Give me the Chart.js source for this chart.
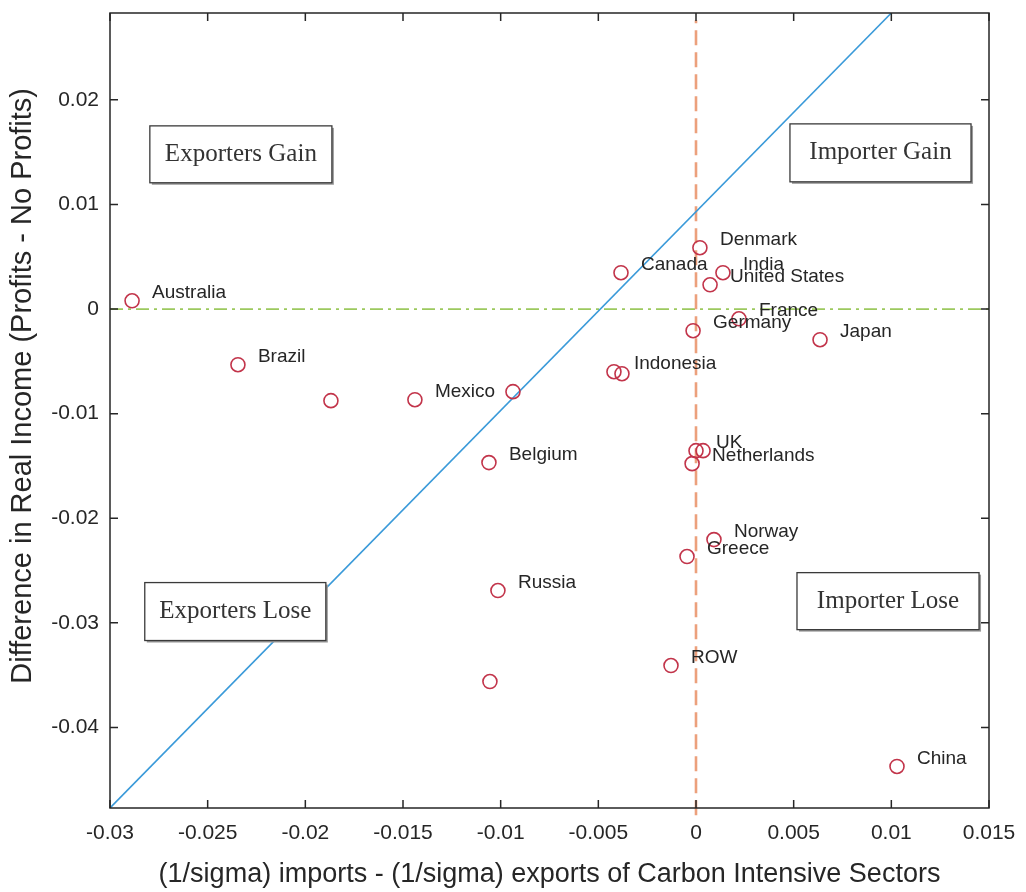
<!DOCTYPE html>
<html>
<head>
<meta charset="utf-8">
<script src="https://cdn.jsdelivr.net/npm/chart.js@4"></script>
<style>
  html,body{margin:0;padding:0;background:#fff;}
  #wrap{width:1026px;height:892px;}
</style>
</head>
<body>
<div id="wrap"><canvas id="c"></canvas></div>
<script>
/* ---------------- data ---------------- */
const countries = ['Australia','Brazil','','Mexico','','Belgium','Russia','',
  'Canada','Indonesia','','Denmark','India','United States','France','Germany',
  'Japan','UK','','Netherlands','Norway','Greece','ROW','China'];
const xVals = [-0.02887,-0.02345,-0.01869,-0.01439,-0.00937,-0.01060,-0.01014,-0.01055,
  -0.00384,-0.00420,-0.00379,0.00020,0.00138,0.00072,0.00220,-0.00015,
  0.00635,0.00000,0.00036,-0.00020,0.00092,-0.00046,-0.00128,0.01029];
const yVals = [0.00079,-0.00532,-0.00876,-0.00867,-0.00790,-0.01468,-0.02691,-0.03561,
  0.00347,-0.00599,-0.00618,0.00586,0.00347,0.00232,-0.00093,-0.00207,
  -0.00293,-0.01354,-0.01354,-0.01478,-0.02204,-0.02366,-0.03408,-0.04373];

const diagX = [-0.03, 0.01];
const diagY = [-0.0477, 0.0283];
const vLineX = [0, 0];
const vLineY = [-0.0484, 0.0276];
const hLineX = [-0.03, 0.015];
const hLineY = [0, 0];

const quadrants = [
  {text:'Exporters Gain', x0:-0.02796, x1:-0.01864, y0:0.01751, y1:0.01207},
  {text:'Importer Gain',  x0: 0.00481, x1: 0.01408, y0:0.01770, y1:0.01216},
  {text:'Exporters Lose', x0:-0.02822, x1:-0.01895, y0:-0.02615, y1:-0.03169},
  {text:'Importer Lose',  x0: 0.00517, x1: 0.01449, y0:-0.02520, y1:-0.03065}
];

const yTitle = 'Difference in Real Income (Profits - No Profits)';
const xTitle = '(1/sigma) imports - (1/sigma) exports of Carbon Intensive Sectors';

const pts = (xs, ys) => xs.map((x,i)=>({x, y:ys[i]}));
const fmtTick = v => String(+v.toFixed(3));
const SANS = '"Liberation Sans", Arial, sans-serif';

/* ---------------- plugins ---------------- */
const frame = {
  id:'frame',
  afterDatasetsDraw(chart){
    const {ctx, chartArea:a, scales:{x,y}} = chart;
    ctx.save();
    // country labels
    ctx.font = '19px ' + SANS;
    ctx.fillStyle = '#262626';
    ctx.textBaseline = 'middle';
    countries.forEach((n,i)=>{
      if(!n) return;
      ctx.fillText(n, x.getPixelForValue(xVals[i]) + 20, y.getPixelForValue(yVals[i]) - 8);
    });
    // quadrant boxes
    quadrants.forEach(q=>{
      const l = x.getPixelForValue(q.x0), r = x.getPixelForValue(q.x1);
      const t = y.getPixelForValue(q.y0), b = y.getPixelForValue(q.y1);
      ctx.fillStyle = '#9a9a9a';
      ctx.fillRect(l+2, t+2, r-l, b-t);
      ctx.fillStyle = '#fff';
      ctx.fillRect(l, t, r-l, b-t);
      ctx.strokeStyle = '#3a3a3a';
      ctx.lineWidth = 1.3;
      ctx.strokeRect(l, t, r-l, b-t);
      ctx.fillStyle = '#333';
      ctx.font = '25px "Liberation Serif", "Times New Roman", serif';
      ctx.textAlign = 'center';
      ctx.fillText(q.text, (l+r)/2, (t+b)/2);
      ctx.textAlign = 'left';
    });
    // axes box + inward ticks
    ctx.strokeStyle = '#262626';
    ctx.lineWidth = 1.5;
    ctx.strokeRect(a.left, a.top, a.right-a.left, a.bottom-a.top);
    ctx.beginPath();
    x.ticks.forEach(tk=>{
      const px = x.getPixelForValue(tk.value);
      ctx.moveTo(px, a.bottom); ctx.lineTo(px, a.bottom-8);
      ctx.moveTo(px, a.top);    ctx.lineTo(px, a.top+8);
    });
    y.ticks.forEach(tk=>{
      const py = y.getPixelForValue(tk.value);
      ctx.moveTo(a.left, py);  ctx.lineTo(a.left+8, py);
      ctx.moveTo(a.right, py); ctx.lineTo(a.right-8, py);
    });
    ctx.stroke();
    // y axis title (sits a bit above the axis centre, as in the original)
    ctx.translate(23, a.top + (a.bottom - a.top) * 0.469);
    ctx.rotate(-Math.PI/2);
    ctx.font = '29px ' + SANS;
    ctx.textAlign = 'center';
    ctx.fillStyle = '#262626';
    ctx.fillText(yTitle, 0, 0);
    ctx.restore();
  }
};

/* ---------------- chart ---------------- */
const tickFont = {family:SANS, size:21};

new Chart(document.getElementById('c'), {
  type:'scatter',
  data:{
    datasets:[
      {type:'scatter', data:pts(xVals,yVals), pointStyle:'circle', pointRadius:7,
       borderColor:'#C2344A', backgroundColor:'rgba(0,0,0,0)', borderWidth:1.6, pointHoverRadius:7},
      {type:'line', data:pts(diagX,diagY), borderColor:'#3A9AD9', borderWidth:1.6, pointRadius:0, fill:false},
      {type:'line', data:pts(vLineX,vLineY), borderColor:'#ECA07C', borderWidth:2.6, borderDash:[15,7],
       pointRadius:0, fill:false, clip:{left:0,top:0,right:0,bottom:8}},
      {type:'line', data:pts(hLineX,hLineY), borderColor:'#9CC95E', borderWidth:1.7, borderDash:[13,5,3,5],
       pointRadius:0, fill:false}
    ]
  },
  options:{
    responsive:true, maintainAspectRatio:false, animation:false,
    layout:{padding:{top:13, right:37, left:0, bottom:0}},
    plugins:{legend:{display:false}, tooltip:{enabled:false}},
    scales:{
      x:{
        type:'linear', min:-0.03, max:0.015,
        ticks:{stepSize:0.005, callback:fmtTick, font:tickFont, color:'#262626', padding:13, maxRotation:0, includeBounds:false},
        grid:{display:false, drawTicks:false},
        border:{display:false},
        title:{display:true, text:xTitle,
               font:{family:SANS, size:27}, color:'#262626', padding:{top:0,bottom:1}},
        afterFit(s){ s.height = 892 - 808; s.paddingLeft = 0; s.paddingRight = 0; }
      },
      y:{
        type:'linear', min:-0.0477, max:0.0283,
        ticks:{stepSize:0.01, callback:fmtTick, font:tickFont, color:'#262626', padding:11, includeBounds:false},
        grid:{display:false, drawTicks:false},
        border:{display:false},
        title:{display:false},
        afterFit(s){ s.width = 110; s.paddingTop = 0; s.paddingBottom = 0; }
      }
    }
  },
  plugins:[frame]
});
</script>
</body>
</html>
